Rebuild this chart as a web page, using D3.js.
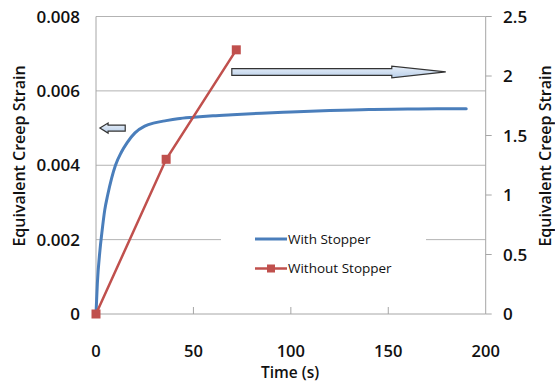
<!DOCTYPE html>
<html>
<head>
<meta charset="utf-8">
<script src="https://cdn.jsdelivr.net/npm/d3@7"></script>
<style>
  html, body { margin: 0; padding: 0; background: #fff; }
  svg { display: block; font-family: "Open Sans", sans-serif; }
</style>
</head>
<body>
<svg id="chart" width="555" height="389"></svg>
<script>
// Creep strain vs time, with and without the stopper
const withTime   = [0, 0.7, 2, 3, 4.5, 6, 8, 10, 13, 16, 20, 25, 30, 36, 42, 50, 60, 70, 85, 100, 120, 140, 160, 175, 190];
const withStrain = [0, 0.00083, 0.0017, 0.00218, 0.0028, 0.0032, 0.00365, 0.0040, 0.00435, 0.00461, 0.00487, 0.00505,
                    0.00514, 0.00520, 0.00525, 0.00529, 0.00533, 0.00536, 0.00540, 0.00543, 0.00547, 0.00550,
                    0.00551, 0.00552, 0.00552];
const withoutTime   = [0, 36, 72];
const withoutStrain = [0, 1.30, 2.22];

const xTicks      = [0, 50, 100, 150, 200];
const leftTicks   = [0, 0.002, 0.004, 0.006, 0.008];
const rightTicks  = [0, 0.5, 1, 1.5, 2, 2.5];
const seriesNames = ["With Stopper", "Without Stopper"];

const blue = "#4a7ebb", red = "#c0504d";

const svg = d3.select("#chart");
const x  = d3.scaleLinear().domain([0, 200]).range([96, 485.7]);
const yL = d3.scaleLinear().domain([0, 0.008]).range([314, 16.5]);
const yR = d3.scaleLinear().domain([0, 2.5]).range([314, 16.5]);

// gradient for the block arrows
const defs = svg.append("defs");
const grad = defs.append("linearGradient").attr("id", "arrowFill")
  .attr("x1", 0).attr("y1", 0).attr("x2", 0).attr("y2", 1);
grad.append("stop").attr("offset", "0%").attr("stop-color", "#e9f0f9");
grad.append("stop").attr("offset", "100%").attr("stop-color", "#b9cfea");

// horizontal gridlines (left axis)
svg.append("g").selectAll("line").data(leftTicks.filter(d => d > 0)).join("line")
  .attr("x1", x(0)).attr("x2", x(200))
  .attr("y1", d => yL(d)).attr("y2", d => yL(d))
  .attr("stroke", "#b3b3b3").attr("stroke-width", 1);

// axis frame: left, bottom, right
const axisColor = "#a6a6a6";
svg.append("line").attr("x1", x(0)).attr("x2", x(0)).attr("y1", yL(0.008)).attr("y2", yL(0))
  .attr("stroke", axisColor);
svg.append("line").attr("x1", x(0)).attr("x2", x(200)).attr("y1", yL(0)).attr("y2", yL(0))
  .attr("stroke", axisColor);
svg.append("line").attr("x1", x(200)).attr("x2", x(200)).attr("y1", yR(2.5)).attr("y2", yR(0))
  .attr("stroke", axisColor);

// x ticks (pointing inward) and labels
svg.append("g").selectAll("line").data(xTicks.slice(1, -1)).join("line")
  .attr("x1", d => x(d)).attr("x2", d => x(d))
  .attr("y1", yL(0)).attr("y2", yL(0) - 7)
  .attr("stroke", axisColor);
svg.append("g").selectAll("text").data(xTicks).join("text")
  .attr("x", d => x(d)).attr("y", 356.5)
  .attr("text-anchor", "middle")
  .attr("font-size", 16.5).attr("font-weight", 600).attr("fill", "#111")
  .text(d => d);

// left tick labels
svg.append("g").selectAll("text").data(leftTicks).join("text")
  .attr("x", 80).attr("y", d => yL(d)).attr("dy", "0.36em")
  .attr("text-anchor", "end")
  .attr("font-size", 17).attr("font-weight", 600).attr("fill", "#111")
  .text(d => d === 0 ? "0" : d.toFixed(3));

// right ticks (outward) and labels
svg.append("g").selectAll("line").data(rightTicks).join("line")
  .attr("x1", x(200)).attr("x2", x(200) + 6)
  .attr("y1", d => yR(d)).attr("y2", d => yR(d))
  .attr("stroke", axisColor);
svg.append("g").selectAll("text").data(rightTicks).join("text")
  .attr("x", 503).attr("y", d => yR(d)).attr("dy", "0.36em")
  .attr("text-anchor", "start")
  .attr("font-size", 17).attr("font-weight", 600).attr("fill", "#111")
  .text(d => String(d));

// axis titles
svg.append("text").attr("transform", "translate(19,156) rotate(-90)")
  .attr("dy", "0.36em").attr("text-anchor", "middle")
  .attr("font-size", 16).attr("font-weight", 600).attr("fill", "#111")
  .text("Equivalent Creep Strain");
svg.append("text").attr("transform", "translate(545.5,156) rotate(-90)")
  .attr("dy", "0.36em").attr("text-anchor", "middle")
  .attr("font-size", 16).attr("font-weight", 600).attr("fill", "#111")
  .text("Equivalent Creep Strain");
svg.append("text").attr("x", 290).attr("y", 377.5)
  .attr("text-anchor", "middle")
  .attr("font-size", 15.5).attr("font-weight", 600).attr("fill", "#111")
  .text("Time (s)");

// legend box (white, sits over the gridline)
const legend = svg.append("g");
legend.append("rect").attr("x", 221).attr("y", 224).attr("width", 205).attr("height", 60).attr("fill", "#fff");
const legendRows = [
  { name: seriesNames[0], color: blue, marker: false, y: 239 },
  { name: seriesNames[1], color: red,  marker: true,  y: 268.5 }
];
legendRows.forEach(r => {
  legend.append("line").attr("x1", 255).attr("x2", 287).attr("y1", r.y).attr("y2", r.y)
    .attr("stroke", r.color).attr("stroke-width", r.marker ? 2.5 : 3);
  if (r.marker) {
    legend.append("rect").attr("x", 271 - 4).attr("y", r.y - 4).attr("width", 8).attr("height", 8)
      .attr("fill", r.color);
  }
  legend.append("text").attr("x", 288).attr("y", r.y).attr("dy", "0.36em")
    .attr("font-size", 13.5).attr("fill", "#111").text(r.name);
});

// series: with stopper (left axis)
const withData = withTime.map((t, i) => [t, withStrain[i]]);
svg.append("path").datum(withData)
  .attr("fill", "none").attr("stroke", blue).attr("stroke-width", 3)
  .attr("stroke-linejoin", "round").attr("stroke-linecap", "round")
  .attr("d", d3.line().x(d => x(d[0])).y(d => yL(d[1])).curve(d3.curveMonotoneX));

// series: without stopper (right axis)
const withoutData = withoutTime.map((t, i) => [t, withoutStrain[i]]);
svg.append("path").datum(withoutData)
  .attr("fill", "none").attr("stroke", red).attr("stroke-width", 2.5)
  .attr("d", d3.line().x(d => x(d[0])).y(d => yR(d[1])));
svg.append("g").selectAll("rect").data(withoutData).join("rect")
  .attr("x", d => x(d[0]) - 4.5).attr("y", d => yR(d[1]) - 4.5)
  .attr("width", 9).attr("height", 9).attr("fill", red);

// block arrows pointing to the axis each series is read against
function blockArrow(x0, xHeadStart, xTip, yc, shaftH, headH) {
  const p = d3.path();
  p.moveTo(x0, yc - shaftH / 2);
  p.lineTo(xHeadStart, yc - shaftH / 2);
  p.lineTo(xHeadStart, yc - headH / 2);
  p.lineTo(xTip, yc);
  p.lineTo(xHeadStart, yc + headH / 2);
  p.lineTo(xHeadStart, yc + shaftH / 2);
  p.lineTo(x0, yc + shaftH / 2);
  p.closePath();
  return p.toString();
}
svg.append("path")
  .attr("d", blockArrow(x(15), x(6.2), x(2), yL(0.005), 6, 10))
  .attr("fill", "url(#arrowFill)").attr("stroke", "#333").attr("stroke-width", 1.2);
svg.append("path")
  .attr("d", blockArrow(x(69.7), x(151.8), x(179.5), yR(2.034), 6.7, 11.6))
  .attr("fill", "url(#arrowFill)").attr("stroke", "#333").attr("stroke-width", 1.2);
</script>
</body>
</html>
